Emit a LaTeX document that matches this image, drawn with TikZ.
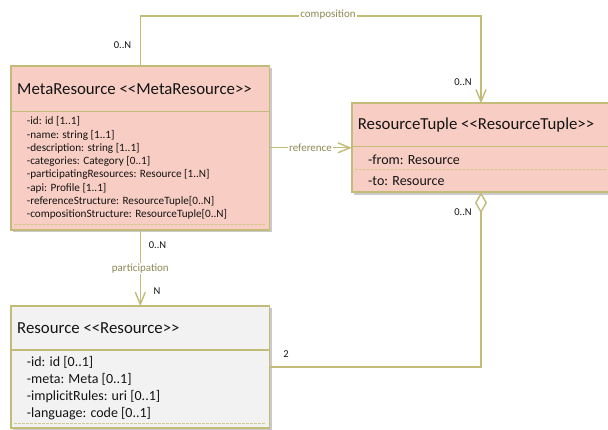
\documentclass[tikz,border=0pt]{standalone}
\usepackage{fontspec}
\setmainfont{Carlito}
\usetikzlibrary{arrows.meta,shadows}

\definecolor{umlborder}{HTML}{C3BB78}
\definecolor{umldash}{HTML}{D2C98C}
\definecolor{umlpink}{HTML}{F8CDC3}
\definecolor{umlgray}{HTML}{F2F2F2}
\definecolor{umllabel}{HTML}{8E8955}
\definecolor{umltext}{HTML}{141414}

% double angle brackets without the TeX ligature turning them into guillemets
\newcommand\dlt{<\kern0pt<}
\newcommand\dgt{>\kern0pt>}

\tikzset{
  classbox/.style={draw=umlborder, line width=1.7pt, rectangle, inner sep=0pt, outer sep=0pt,
    anchor=north west, minimum width=258.6pt,
    drop shadow={shadow xshift=2pt, shadow yshift=-2.5pt, opacity=0.35, fill=black!60}},
  divider/.style={draw=umlborder, line width=1.6pt},
  dashdiv/.style={draw=umldash, line width=1pt, dash pattern=on 2.5pt off 1.5pt},
  titletext/.style={anchor=west, inner sep=0pt, text=umltext, font=\fontsize{16.8}{19}\selectfont},
  attrsmall/.style={anchor=west, inner sep=0pt, text=umltext, font=\fontsize{11.2}{13}\selectfont},
  attrbig/.style={anchor=west, inner sep=0pt, text=umltext, font=\fontsize{14}{16}\selectfont},
  conn/.style={draw=umlborder, line width=1.4pt},
  connlabel/.style={fill=white, inner sep=1pt, text=umllabel, font=\fontsize{11}{13}\selectfont},
  mult/.style={inner sep=0pt, text=umltext, font=\fontsize{10.5}{12}\selectfont},
  openarrow/.style={-{Straight Barb[length=12pt, width=10pt, line width=1.4pt]}},
  aggdiamond/.style={{Diamond[open, length=21pt, width=12pt, line width=1.4pt, fill=white]}-},
}

\begin{document}
\begin{tikzpicture}[x=1pt, y=-1pt]
\useasboundingbox (0,0) rectangle (608,430);

% ---- class boxes ----
\node[classbox, fill=umlpink, minimum height=164pt] (meta) at (11,66) {};
\node[classbox, fill=umlpink, minimum height=89pt] (tuple) at (351.7,103.3) {};
\node[classbox, fill=umlgray, minimum height=122pt] (res) at (11,306) {};

% ---- compartments ----
\draw[divider] (meta.west |- 0,111.5) -- (meta.east |- 0,111.5);
\draw[dashdiv] (14,224.3) -- (266,224.3);

\draw[divider] (tuple.west |- 0,146.7) -- (tuple.east |- 0,146.7);
\draw[dashdiv] (355,170) -- (607,170);

\draw[divider] (res.west |- 0,350) -- (res.east |- 0,350);
\draw[dashdiv] (14,423.3) -- (266,423.3);

% ---- MetaResource ----
\node[titletext] (metaTitle) at (17,89.5) {MetaResource \dlt MetaResource\dgt};
\foreach \t [count=\i] in {{-id: id [1..1]}, {-name: string [1..1]}, {-description: string [1..1]},
    {-categories: Category [0..1]}, {-participatingResources: Resource [1..N]}, {-api: Profile [1..1]},
    {-referenceStructure: ResourceTuple[0..N]}, {-compositionStructure: ResourceTuple[0..N]}}
  \node[attrsmall] (metaAttr\i) at (26.7,{121.7+13.3*(\i-1)}) {\t};

% ---- ResourceTuple ----
\node[titletext] (tupleTitle) at (357.7,125) {ResourceTuple \dlt ResourceTuple\dgt};
\node[attrbig] (tupleFrom) at (368,160) {-from: Resource};
\node[attrbig] (tupleTo) at (368,180.7) {-to: Resource};

% ---- Resource ----
\node[titletext] (resTitle) at (17,328.5) {Resource \dlt Resource\dgt};
\foreach \t [count=\i] in {{-id: id [0..1]}, {-meta: Meta [0..1]}, {-implicitRules: uri [0..1]}, {-language: code [0..1]}}
  \node[attrbig] (resAttr\i) at (26.7,{362.7+16.9*(\i-1)}) {\t};

% ---- connectors ----
\coordinate (compTop) at (0,16);
\draw[conn, openarrow] (meta.north) -- (meta.north |- compTop) -| (tuple.north);
\node[connlabel] (compLabel) at (328,15) {composition};
\node[mult] (compFrom) at (122.5,45) {0..N};
\node[mult] (compTo) at (463,81.7) {0..N};

\draw[conn, openarrow] (meta.east |- tuple.west) -- (tuple.west);
\node[connlabel] (refLabel) at (310.5,148) {reference};

\draw[conn, openarrow] (meta.south) -- (res.north);
\node[connlabel] (partLabel) at (140.3,268.3) {participation};
\node[mult] (partFrom) at (157.5,245.3) {0..N};
\node[mult] (partTo) at (157,290.7) {N};

\draw[conn, aggdiamond] (tuple.south) |- (res.east);
\node[mult] (aggFrom) at (463,212.3) {0..N};
\node[mult] (aggTo) at (286,354.3) {2};
\end{tikzpicture}
\end{document}
